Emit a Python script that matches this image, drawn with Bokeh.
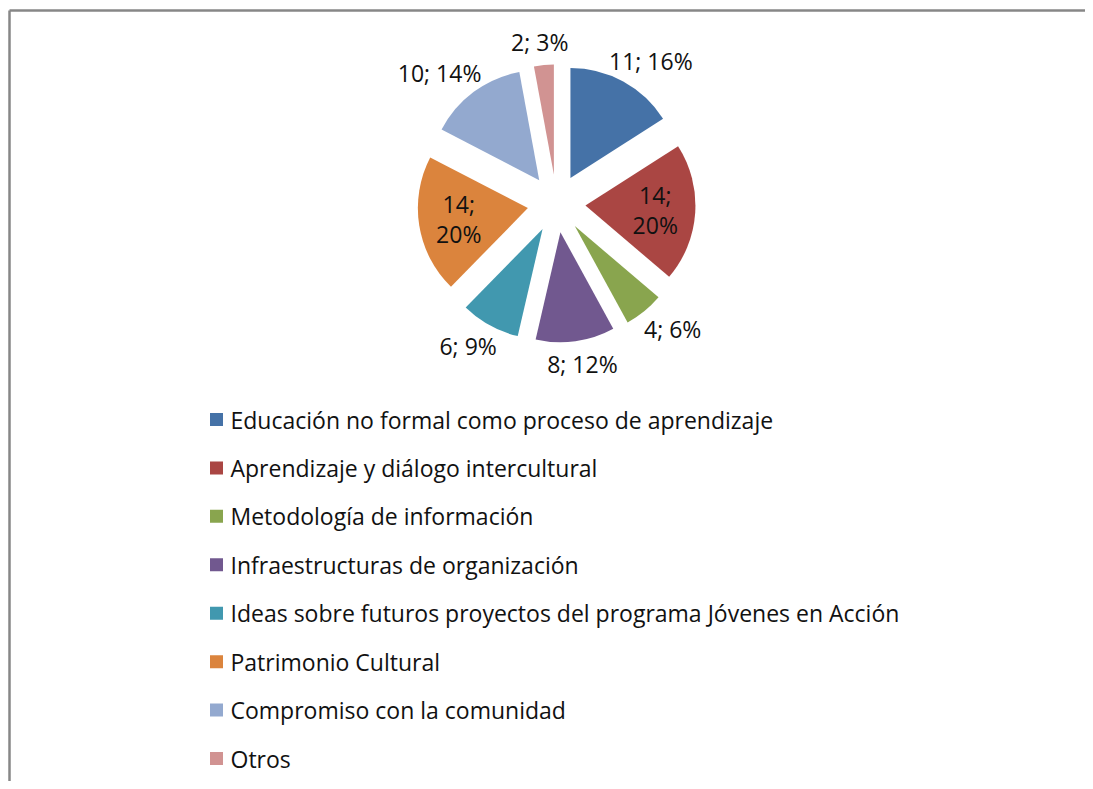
import numpy as np
from bokeh.plotting import figure
from bokeh.models import Range1d, ColumnDataSource
from bokeh.core.properties import value
from bokeh.embed import file_html
from bokeh.resources import INLINE

# ---------------- data ----------------
categories = [
    "Educación no formal como proceso de aprendizaje",
    "Aprendizaje y diálogo intercultural",
    "Metodología de información",
    "Infraestructuras de organización",
    "Ideas sobre futuros proyectos  del programa Jóvenes en Acción",
    "Patrimonio Cultural",
    "Compromiso con la comunidad",
    "Otros",
]
values = [11, 14, 4, 8, 6, 14, 10, 2]
colors = ["#4572A7", "#AA4643", "#89A54E", "#71588F",
          "#4198AF", "#DB843D", "#93A9CF", "#D19392"]

# ---------------- layout ----------------
W, H = 1085, 781
FONT = "Open Sans"
FS = 23
TXT = "#111111"

def py(page_y):
    return H - page_y

p = figure(width=W, height=H, output_backend="svg", toolbar_location=None,
           x_range=Range1d(0, W), y_range=Range1d(0, H),
           min_border=0, background_fill_color="white", border_fill_color="white")
p.axis.visible = False
p.grid.visible = False
p.outline_line_color = None

# frame (top and left edges visible in the reference)
p.line([9, 9], [py(10), py(H + 20)], line_color="#878787", line_width=2.5)
p.line([9, W + 20], [py(10), py(10)], line_color="#878787", line_width=2.5)

# ---------------- pie ----------------
vals = np.array(values, dtype=float)
total = vals.sum()
cum = np.concatenate([[0], np.cumsum(vals)])
start_cw = cum[:-1] / total * 2 * np.pi
end_cw = cum[1:] / total * 2 * np.pi
start = np.pi / 2 - start_cw
end = np.pi / 2 - end_cw
mid = (start + end) / 2

cx, cy = 556, py(203)
R = 110
D = 29
xs = cx + D * np.cos(mid)
ys = cy + D * np.sin(mid)

src = ColumnDataSource(dict(x=xs, y=ys, start=start, end=end, color=colors))
p.wedge(x="x", y="y", radius=R, start_angle="start", end_angle="end",
        direction="clock", fill_color="color", line_color=None, source=src)

# ---------------- data labels ----------------
pcts = np.round(vals / total * 100).astype(int)
in_x, in_y, in_t = [], [], []
out_x, out_y, out_t = [], [], []
for v, pc, m, f in zip(values, pcts, mid, vals / total):
    if f > 0.18:
        lx = cx + 99 * np.cos(m)
        ly = cy + 99 * np.sin(m)
        in_x += [lx, lx]
        in_y += [ly + 15, ly - 15]
        in_t += [f"{v};", f"{pc}%"]
    else:
        t = f"{v}; {pc}%"
        w = len(t) * 0.54 * FS
        h = 18
        r = D + R + 14
        ax = cx + r * np.cos(m)
        ay = cy + r * np.sin(m)
        out_x.append(ax + 0.5 * w * np.cos(m))
        out_y.append(ay + 0.5 * h * np.sin(m))
        out_t.append(t)

p.text(x=in_x, y=in_y, text=in_t, text_align="center", text_baseline="middle",
       text_font=value(FONT), text_font_size=f"{FS}px", text_color=TXT)
p.text(x=out_x, y=out_y, text=out_t, text_align="center", text_baseline="middle",
       text_font=value(FONT), text_font_size=f"{FS}px", text_color=TXT)

# ---------------- legend ----------------
row0, step = 419, 48.43
ly = [py(row0 + i * step) for i in range(len(categories))]
p.rect(x=[216] * len(categories), y=ly, width=13, height=13,
       fill_color=colors, line_color=None)
p.text(x=[230] * len(categories), y=ly, text=categories, text_align="left",
       text_baseline="middle", text_font=value(FONT), text_font_size=f"{FS}px",
       text_color=TXT)

open("out.html", "w").write(file_html(p, INLINE))
